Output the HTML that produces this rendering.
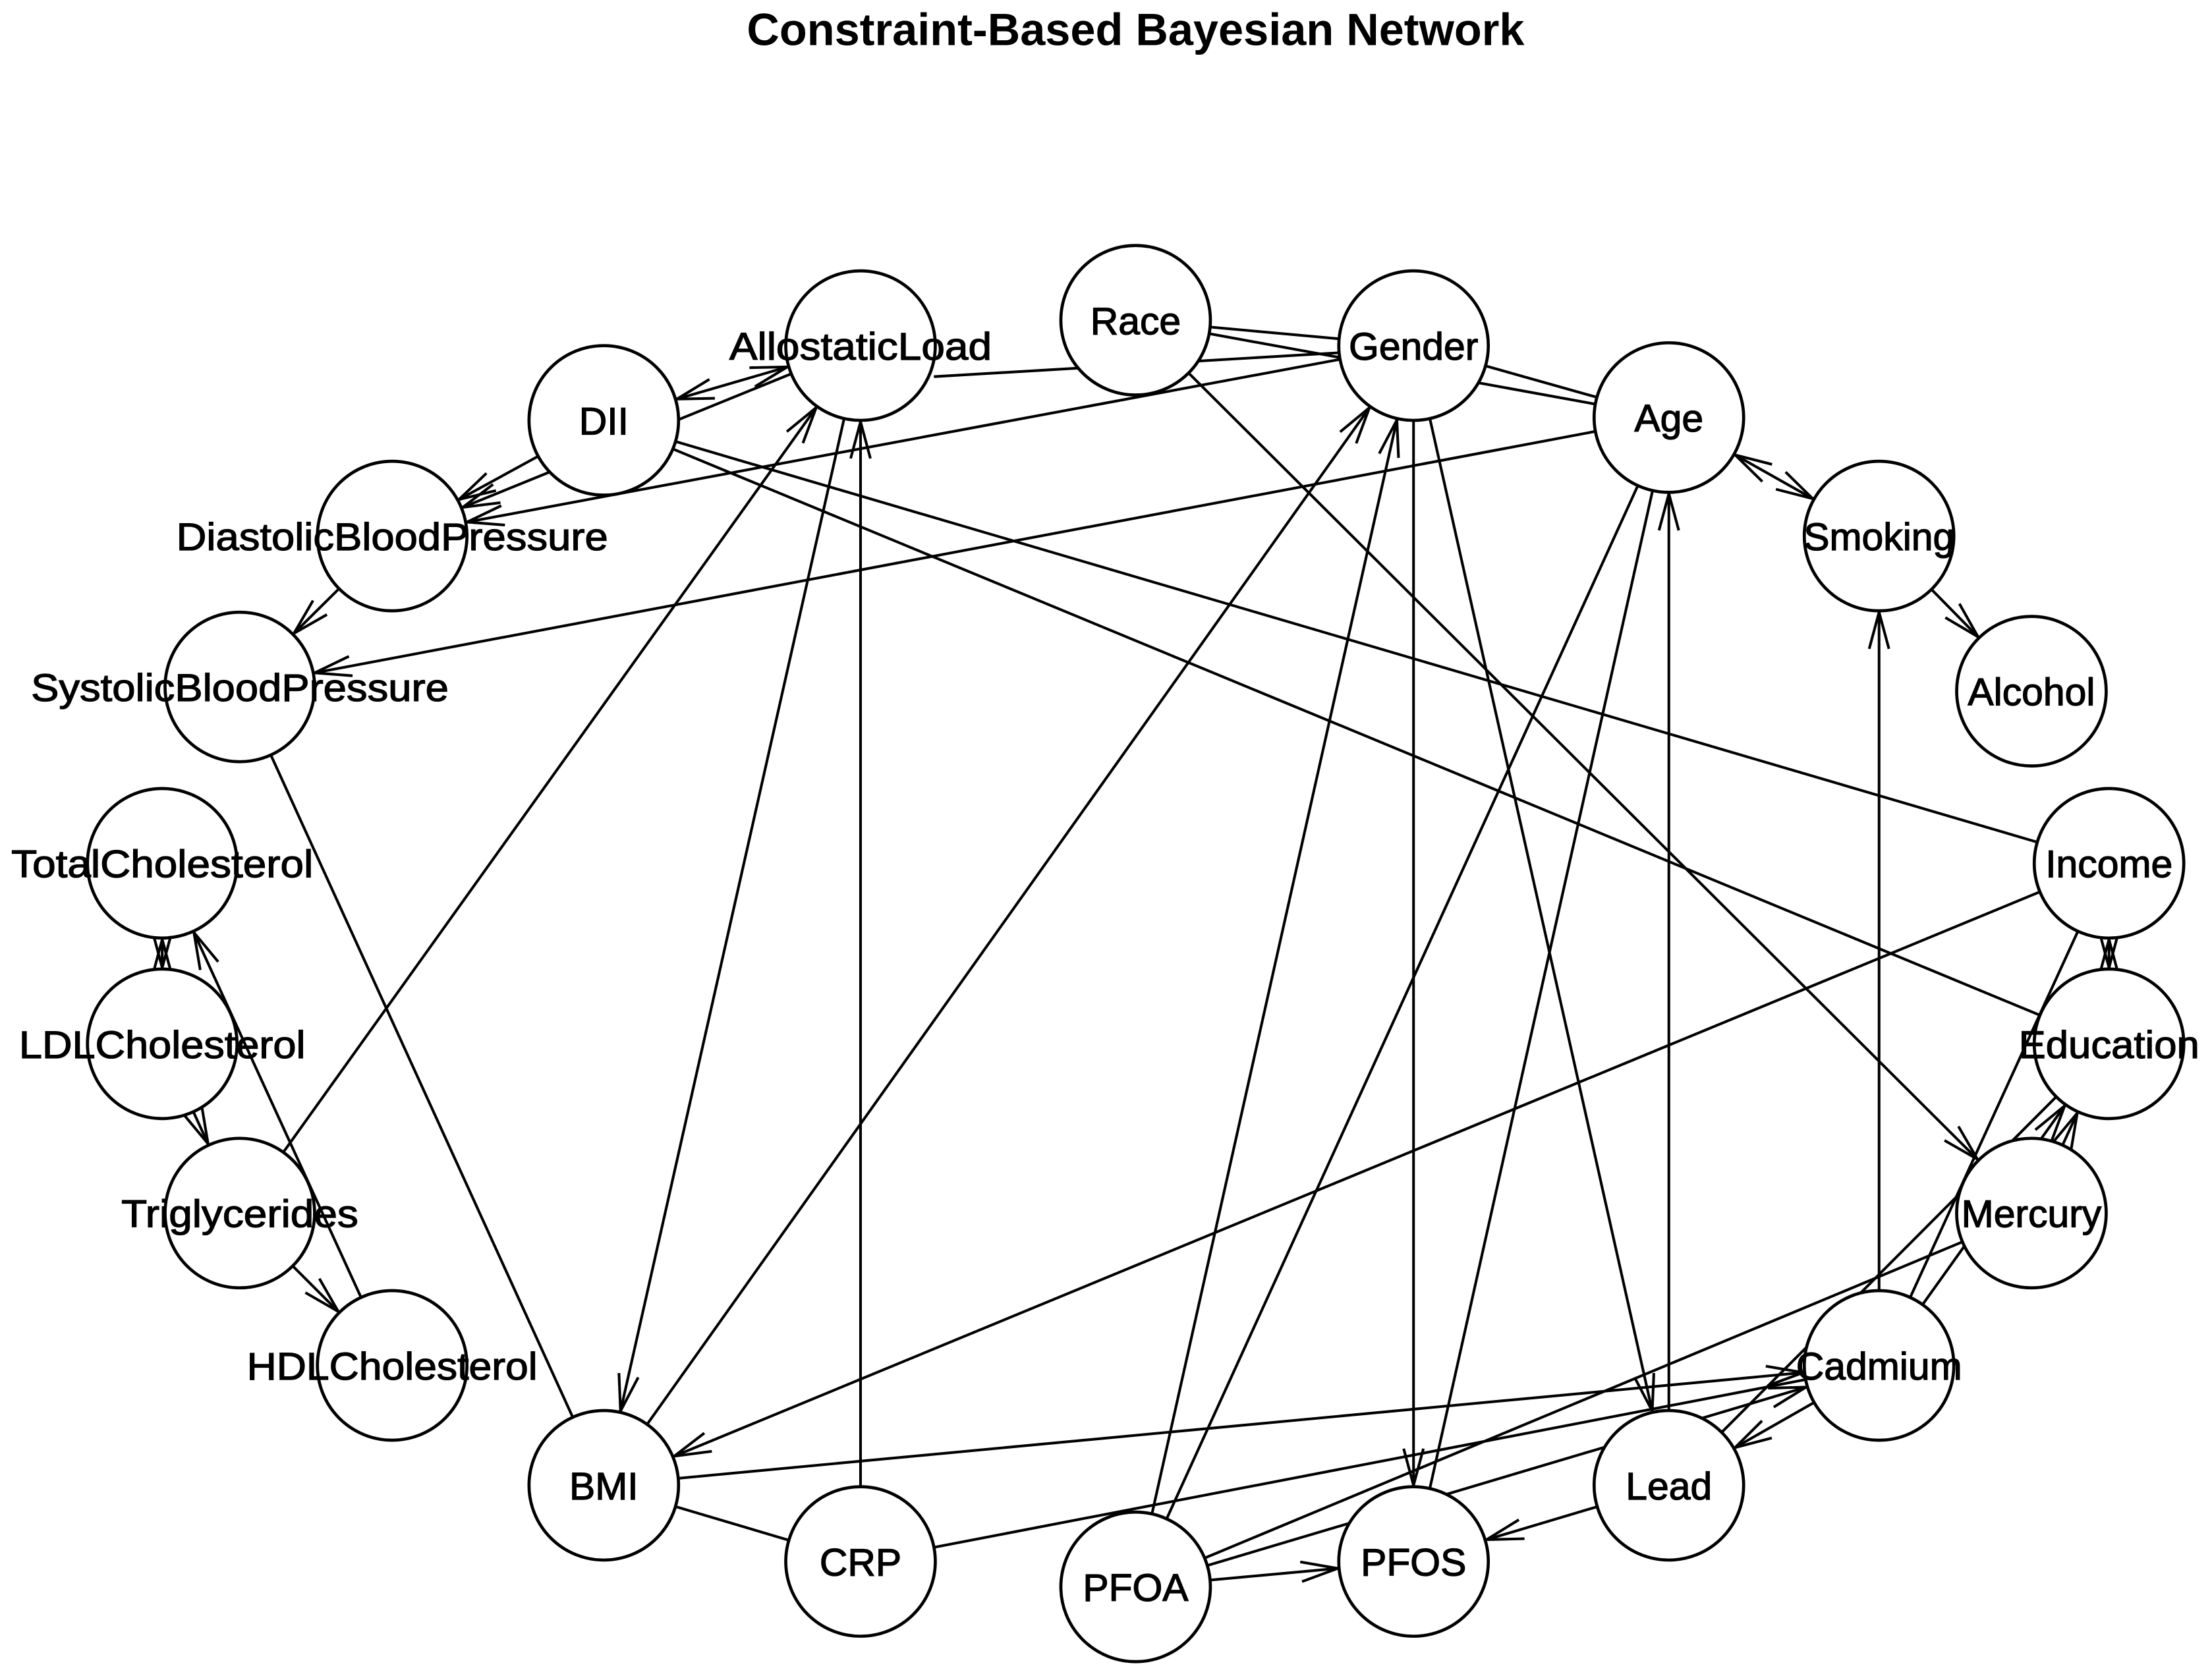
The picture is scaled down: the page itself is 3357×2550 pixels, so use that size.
<!DOCTYPE html>
<html><head><meta charset="utf-8"><style>
html,body{margin:0;padding:0;background:#fff;}
svg{display:block;}
text{font-family:"Liberation Sans",Arial,sans-serif;}
</style></head><body>
<svg width="3357" height="2550" viewBox="0 0 1568 1191" xmlns="http://www.w3.org/2000/svg">
<defs>
<marker id="a" markerUnits="userSpaceOnUse" orient="auto" overflow="visible" markerWidth="1" markerHeight="1" refX="0" refY="0">
<path d="M-80,-7 L-54,0 L-80,7" fill="none" stroke="#000" stroke-width="1.9"/>
</marker>
<marker id="s" markerUnits="userSpaceOnUse" orient="auto-start-reverse" overflow="visible" markerWidth="1" markerHeight="1" refX="0" refY="0">
<path d="M-80,-7 L-54,0 L-80,7" fill="none" stroke="#000" stroke-width="1.9"/>
</marker>
</defs>
<text x="805" y="32" text-anchor="middle" font-size="32" font-weight="bold">Constraint-Based Bayesian Network</text>
<g stroke="#000" stroke-width="1.9" fill="none">
<line x1="805" y1="227" x2="1002" y2="245"/>
<line x1="662" y1="267" x2="950" y2="250"/>
<line x1="1002" y1="245" x2="1183" y2="296"/>
<line x1="805" y1="227" x2="1183" y2="296"/>
<line x1="428" y1="298" x2="1495" y2="612"/>
<line x1="428" y1="298" x2="1495" y2="740"/>
<line x1="170" y1="487" x2="428" y2="1053"/>
<line x1="805" y1="1125" x2="1183" y2="296"/>
<line x1="1002" y1="1107" x2="1183" y2="296"/>
<line x1="428" y1="1053" x2="610" y2="1107"/>
<line x1="1495" y1="612" x2="1332" y2="968"/>
<line x1="610" y1="1107" x2="1332" y2="968"/>
<line x1="1440" y1="860" x2="805" y2="1125"/>
<line x1="1183" y1="1053" x2="1495" y2="740"/>
<line x1="1002" y1="245" x2="278" y2="380" marker-end="url(#a)"/>
<line x1="610" y1="245" x2="278" y2="380" marker-end="url(#a)"/>
<line x1="428" y1="298" x2="278" y2="380" marker-end="url(#a)"/>
<line x1="428" y1="298" x2="610" y2="245" marker-end="url(#a)" marker-start="url(#s)"/>
<line x1="1183" y1="296" x2="170" y2="487" marker-end="url(#a)"/>
<line x1="278" y1="380" x2="170" y2="487" marker-end="url(#a)"/>
<line x1="1183" y1="296" x2="1332" y2="380" marker-end="url(#a)" marker-start="url(#s)"/>
<line x1="1332" y1="380" x2="1440" y2="490" marker-end="url(#a)"/>
<line x1="805" y1="227" x2="1440" y2="860" marker-end="url(#a)"/>
<line x1="1002" y1="245" x2="1002" y2="1107" marker-end="url(#a)"/>
<line x1="1002" y1="245" x2="1183" y2="1053" marker-end="url(#a)"/>
<line x1="610" y1="245" x2="428" y2="1053" marker-end="url(#a)"/>
<line x1="610" y1="1107" x2="610" y2="245" marker-end="url(#a)"/>
<line x1="170" y1="860" x2="610" y2="245" marker-end="url(#a)"/>
<line x1="428" y1="1053" x2="1002" y2="245" marker-end="url(#a)"/>
<line x1="805" y1="1125" x2="1002" y2="245" marker-end="url(#a)"/>
<line x1="1183" y1="1053" x2="1183" y2="296" marker-end="url(#a)"/>
<line x1="1332" y1="968" x2="1332" y2="380" marker-end="url(#a)"/>
<line x1="1495" y1="612" x2="428" y2="1053" marker-end="url(#a)"/>
<line x1="1495" y1="612" x2="1495" y2="740" marker-end="url(#a)" marker-start="url(#s)"/>
<line x1="428" y1="1053" x2="1332" y2="968" marker-end="url(#a)"/>
<line x1="1183" y1="1053" x2="1002" y2="1107" marker-end="url(#a)"/>
<line x1="1183" y1="1053" x2="1332" y2="968" marker-start="url(#s)"/>
<line x1="805" y1="1125" x2="1002" y2="1107" marker-end="url(#a)"/>
<line x1="1332" y1="968" x2="1495" y2="740" marker-end="url(#a)"/>
<line x1="1440" y1="860" x2="1495" y2="740" marker-end="url(#a)"/>
<line x1="805" y1="1125" x2="1332" y2="968" marker-end="url(#a)"/>
<line x1="115" y1="612" x2="115" y2="740" marker-end="url(#a)" marker-start="url(#s)"/>
<line x1="115" y1="740" x2="170" y2="860" marker-end="url(#a)"/>
<line x1="278" y1="968" x2="115" y2="612" marker-end="url(#a)"/>
<line x1="278" y1="968" x2="170" y2="860" marker-start="url(#s)"/>
</g>
<g fill="#fff" stroke="#000" stroke-width="2.2">
<circle cx="805" cy="227" r="53"/><circle cx="610" cy="245" r="53"/><circle cx="1002" cy="245" r="53"/>
<circle cx="428" cy="298" r="53"/><circle cx="1183" cy="296" r="53"/><circle cx="278" cy="380" r="53"/>
<circle cx="1332" cy="380" r="53"/><circle cx="170" cy="487" r="53"/><circle cx="1440" cy="490" r="53"/>
<circle cx="115" cy="612" r="53"/><circle cx="1495" cy="612" r="53"/><circle cx="115" cy="740" r="53"/>
<circle cx="1495" cy="740" r="53"/><circle cx="170" cy="860" r="53"/><circle cx="1440" cy="860" r="53"/>
<circle cx="278" cy="968" r="53"/><circle cx="1332" cy="968" r="53"/><circle cx="428" cy="1053" r="53"/>
<circle cx="1183" cy="1053" r="53"/><circle cx="610" cy="1107" r="53"/><circle cx="1002" cy="1107" r="53"/>
<circle cx="805" cy="1125" r="53"/>
</g>
<g font-size="27.5" text-anchor="middle" stroke="#000" stroke-width="0.6" textLength="0">
<text x="805" y="237">Race</text><text x="610" y="255" textLength="186" lengthAdjust="spacingAndGlyphs">AllostaticLoad</text><text x="1002" y="255">Gender</text>
<text x="428" y="308">DII</text><text x="1183" y="306">Age</text><text x="278" y="390" textLength="306" lengthAdjust="spacingAndGlyphs">DiastolicBloodPressure</text>
<text x="1332" y="390">Smoking</text><text x="170" y="497" textLength="296" lengthAdjust="spacingAndGlyphs">SystolicBloodPressure</text><text x="1440" y="500">Alcohol</text>
<text x="115" y="622" textLength="214" lengthAdjust="spacingAndGlyphs">TotalCholesterol</text><text x="1495" y="622">Income</text><text x="115" y="750" textLength="203" lengthAdjust="spacingAndGlyphs">LDLCholesterol</text>
<text x="1495" y="750" textLength="128" lengthAdjust="spacingAndGlyphs">Education</text><text x="170" y="870" textLength="168" lengthAdjust="spacingAndGlyphs">Triglycerides</text><text x="1440" y="870">Mercury</text>
<text x="278" y="978" textLength="206" lengthAdjust="spacingAndGlyphs">HDLCholesterol</text><text x="1332" y="978">Cadmium</text><text x="428" y="1063">BMI</text>
<text x="1183" y="1063">Lead</text><text x="610" y="1117">CRP</text><text x="1002" y="1117">PFOS</text>
<text x="805" y="1135">PFOA</text>
</g>
</svg>
</body></html>
